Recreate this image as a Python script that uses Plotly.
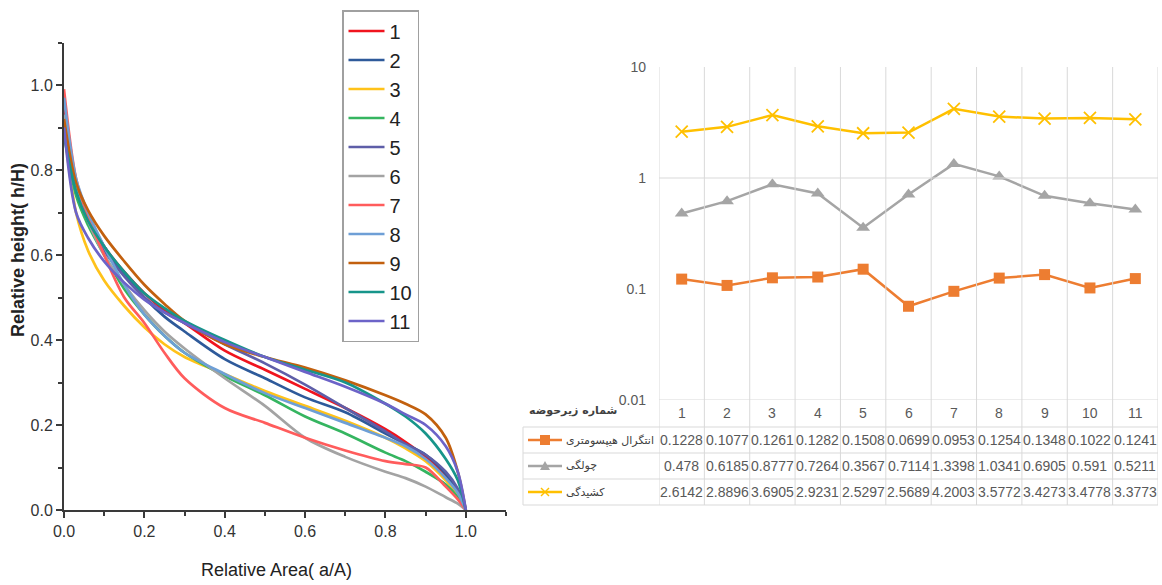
import plotly.graph_objects as go

# ---------------- data: left chart (hypsometric curves) ----------------
rel_area = [0, 0.03, 0.06, 0.1, 0.15, 0.2, 0.25, 0.3, 0.4, 0.5, 0.6, 0.7, 0.8, 0.85, 0.9, 0.95, 0.98, 1.0]
curve_names = ["1", "2", "3", "4", "5", "6", "7", "8", "9", "10", "11"]
h1 = [0.95, 0.76, 0.69, 0.62, 0.56, 0.51, 0.47, 0.44, 0.375, 0.33, 0.285, 0.24, 0.19, 0.16, 0.125, 0.08, 0.045, 0.0]
h2 = [0.90, 0.75, 0.69, 0.62, 0.555, 0.50, 0.455, 0.42, 0.355, 0.31, 0.265, 0.23, 0.18, 0.155, 0.13, 0.085, 0.045, 0.0]
h3 = [0.90, 0.70, 0.61, 0.54, 0.48, 0.43, 0.39, 0.36, 0.32, 0.28, 0.245, 0.21, 0.17, 0.145, 0.115, 0.07, 0.035, 0.0]
h4 = [0.90, 0.74, 0.67, 0.60, 0.52, 0.46, 0.41, 0.37, 0.315, 0.27, 0.22, 0.18, 0.135, 0.115, 0.09, 0.06, 0.03, 0.0]
h5 = [0.93, 0.76, 0.68, 0.61, 0.55, 0.50, 0.465, 0.44, 0.39, 0.345, 0.295, 0.24, 0.185, 0.155, 0.13, 0.09, 0.05, 0.0]
h6 = [0.93, 0.76, 0.68, 0.60, 0.53, 0.47, 0.42, 0.38, 0.31, 0.245, 0.17, 0.125, 0.09, 0.075, 0.055, 0.03, 0.015, 0.0]
h7 = [0.99, 0.78, 0.69, 0.60, 0.50, 0.44, 0.37, 0.31, 0.24, 0.205, 0.17, 0.14, 0.115, 0.108, 0.10, 0.055, 0.025, 0.0]
h8 = [0.97, 0.78, 0.70, 0.62, 0.53, 0.46, 0.41, 0.37, 0.32, 0.275, 0.24, 0.205, 0.17, 0.15, 0.12, 0.075, 0.04, 0.0]
h9 = [0.92, 0.77, 0.705, 0.645, 0.585, 0.53, 0.485, 0.445, 0.39, 0.36, 0.335, 0.305, 0.27, 0.25, 0.225, 0.17, 0.09, 0.0]
h10 = [0.88, 0.75, 0.68, 0.62, 0.56, 0.51, 0.475, 0.445, 0.40, 0.36, 0.33, 0.30, 0.25, 0.22, 0.18, 0.12, 0.07, 0.0]
h11 = [0.90, 0.70, 0.64, 0.585, 0.535, 0.495, 0.465, 0.44, 0.395, 0.36, 0.325, 0.29, 0.25, 0.225, 0.20, 0.15, 0.09, 0.0]
curve_colors = ["#F0141E", "#2E5A9A", "#FFC21A", "#35B560", "#5E5EA8", "#A3A3A3",
                "#FF5C5C", "#6E9FD6", "#C2600E", "#17958A", "#6C63C8"]

# ---------------- data: right chart + table ----------------
subbasins = [1, 2, 3, 4, 5, 6, 7, 8, 9, 10, 11]
hyps_integral = [0.1228, 0.1077, 0.1261, 0.1282, 0.1508, 0.0699, 0.0953, 0.1254, 0.1348, 0.1022, 0.1241]
skewness = [0.478, 0.6185, 0.8777, 0.7264, 0.3567, 0.7114, 1.3398, 1.0341, 0.6905, 0.591, 0.5211]
kurtosis = [2.6142, 2.8896, 3.6905, 2.9231, 2.5297, 2.5689, 4.2003, 3.5772, 3.4273, 3.4778, 3.3773]
row_labels = ["انتگرال هیپسومتری", "چولگی", "کشیدگی"]
header_label = "شماره زیرحوضه"
y_ticks = [0.01, 0.1, 1, 10]
y_ticktext = ["0.01", "0.1", "1", "10"]

W, H = 1162, 585
def px(x):
    return x / W
def py(y):
    return 1 - y / H

fig = go.Figure()

curves = [h1, h2, h3, h4, h5, h6, h7, h8, h9, h10, h11]
for i, (name, ys) in enumerate(zip(curve_names, curves)):
    fig.add_trace(go.Scatter(
        x=rel_area, y=ys, mode="lines", name=name, legendgroup=name,
        line=dict(color=curve_colors[i], width=2.7, shape="spline", smoothing=0.9),
        xaxis="x", yaxis="y"))

ORANGE, GRAY, YELLOW = "#ED7D31", "#A5A5A5", "#FFC000"
fig.add_trace(go.Scatter(x=subbasins, y=hyps_integral, mode="lines+markers", showlegend=False,
                         line=dict(color=ORANGE, width=2.5),
                         marker=dict(symbol="square", size=11, color=ORANGE),
                         xaxis="x2", yaxis="y2"))
fig.add_trace(go.Scatter(x=subbasins, y=skewness, mode="lines+markers", showlegend=False,
                         line=dict(color=GRAY, width=2.5),
                         marker=dict(symbol="triangle-up", size=12, color=GRAY),
                         xaxis="x2", yaxis="y2"))
fig.add_trace(go.Scatter(x=subbasins, y=kurtosis, mode="lines+markers", showlegend=False,
                         line=dict(color=YELLOW, width=2.5),
                         marker=dict(symbol="x-thin-open", size=12, color=YELLOW,
                                     line=dict(color=YELLOW, width=1.8)),
                         xaxis="x2", yaxis="y2"))

axis_font = dict(family="Liberation Sans, Arial, sans-serif", size=16, color="#333333")
left_common = dict(range=[0, 1.1], tickmode="array", tickvals=[0, 0.2, 0.4, 0.6, 0.8, 1.0],
                   ticktext=["0.0", "0.2", "0.4", "0.6", "0.8", "1.0"], automargin=False,
                   showgrid=False, zeroline=False, showline=True, linecolor="#3a3a3a",
                   linewidth=2, ticks="outside", ticklen=6, tickwidth=2, tickcolor="#3a3a3a",
                   tickfont=axis_font,
                   minor=dict(tickvals=[0.1, 0.3, 0.5, 0.7, 0.9, 1.1], ticks="outside",
                              ticklen=4, tickwidth=2, tickcolor="#3a3a3a"))

tab_font = dict(family="Liberation Sans Narrow, Arial Narrow, sans-serif", size=14, color="#595959")

fig.update_layout(
    template="none",
    width=W, height=H, autosize=False, margin=dict(l=0, r=0, t=0, b=0, pad=0, autoexpand=False),
    paper_bgcolor="white", plot_bgcolor="white",
    xaxis=dict(domain=[px(64), px(506)], anchor="y", **left_common),
    yaxis=dict(domain=[py(510), py(42.5)], anchor="x", **left_common),
    xaxis2=dict(domain=[px(659), px(1158)], anchor="y2", range=[0.5, 11.5], automargin=False,
                showgrid=False, zeroline=False, showline=False, showticklabels=False, ticks=""),
    yaxis2=dict(domain=[py(400), py(67)], anchor="x2", type="log", range=[-2, 1], automargin=False,
                tickmode="array", tickvals=y_ticks, ticktext=y_ticktext,
                showgrid=False, zeroline=False, showline=False, ticks="",
                ticklabelstandoff=12, tickfont=tab_font),
    legend=dict(x=px(342), y=py(10), xanchor="left", yanchor="top",
                bgcolor="white", bordercolor="#A0A0A0", borderwidth=1.5,
                font=dict(family="Liberation Sans, Arial, sans-serif", size=20, color="#222222"),
                tracegroupgap=0, itemwidth=36),
    showlegend=True,
)

# axis titles of left chart
fig.add_annotation(text="Relative height( h/H)", x=px(18), y=py(250), xref="paper", yref="paper",
                   xanchor="center", yanchor="middle", textangle=-90, showarrow=False,
                   font=dict(family="Liberation Sans, Arial, sans-serif", size=18, color="#222222",
                             weight="bold"))
fig.add_annotation(text="Relative Area( a/A)", x=px(276), y=py(570), xref="paper", yref="paper",
                   xanchor="center", yanchor="middle", showarrow=False,
                   font=dict(family="Liberation Sans, Arial, sans-serif", size=18, color="#222222"))

shapes = []
GRID = "#D9D9D9"
# vertical column lines (plot + table)
for k in range(12):
    shapes.append(dict(type="line", xref="x2", yref="paper", x0=0.5 + k, x1=0.5 + k,
                       y0=py(505), y1=py(67), line=dict(color=GRID, width=1)))
# horizontal gridline at 1 and bottom of plot (0.01)
for gv in [1, 0.01]:
    shapes.append(dict(type="line", xref="x2", yref="y2", x0=0.5, x1=11.5, y0=gv, y1=gv,
                       line=dict(color=GRID, width=1)))
# table horizontal lines
for yy in [427, 453, 479, 505]:
    shapes.append(dict(type="line", xref="paper", yref="paper", x0=px(523), x1=px(1158),
                       y0=py(yy), y1=py(yy), line=dict(color=GRID, width=1)))
shapes.append(dict(type="line", xref="paper", yref="paper", x0=px(523), x1=px(523),
                   y0=py(427), y1=py(505), line=dict(color=GRID, width=1)))

# legend keys inside the table
row_y = [440, 466, 492]
key_cols = [ORANGE, GRAY, YELLOW]
for yy, c in zip(row_y, key_cols):
    shapes.append(dict(type="line", xref="paper", yref="paper", x0=px(528), x1=px(562),
                       y0=py(yy), y1=py(yy), line=dict(color=c, width=2.5)))
cx = 545
shapes.append(dict(type="rect", xref="paper", yref="paper", x0=px(cx - 5), x1=px(cx + 5),
                   y0=py(440 + 5), y1=py(440 - 5), fillcolor=ORANGE, line=dict(width=0)))
shapes.append(dict(type="path", xref="paper", yref="paper",
                   path=f"M {px(cx-5)},{py(466+4)} L {px(cx+5)},{py(466+4)} L {px(cx)},{py(466-5)} Z",
                   fillcolor=GRAY, line=dict(width=0)))
for dx in [(-4, 4), (4, -4)]:
    shapes.append(dict(type="line", xref="paper", yref="paper", x0=px(cx + dx[0]), x1=px(cx + dx[1]),
                       y0=py(492 - 4), y1=py(492 + 4), line=dict(color=YELLOW, width=1.5)))
fig.update_layout(shapes=shapes)

# table header and values
fig.add_annotation(text=header_label, x=px(573), y=py(411), xref="paper", yref="paper",
                   xanchor="center", yanchor="middle", showarrow=False,
                   font=dict(family="DejaVu Sans, sans-serif", size=11, color="#404040", weight="bold"))
for i, n in enumerate(subbasins):
    fig.add_annotation(text=str(n), x=n, y=py(413), xref="x2", yref="paper", showarrow=False,
                       xanchor="center", yanchor="middle", font=tab_font)
for vals, yy, lab in zip([hyps_integral, skewness, kurtosis], row_y, row_labels):
    fig.add_annotation(text=lab, x=px(564), y=py(yy), xref="paper", yref="paper",
                       xanchor="left", yanchor="middle", showarrow=False,
                       font=dict(family="DejaVu Sans, sans-serif", size=11, color="#404040"))
    for n, v in zip(subbasins, vals):
        fig.add_annotation(text=str(v), x=n, y=py(yy), xref="x2", yref="paper", showarrow=False,
                           xanchor="center", yanchor="middle", font=tab_font)

fig.write_html("out.html", config={"displayModeBar": False},
               post_script="document.body.style.margin='0';")
